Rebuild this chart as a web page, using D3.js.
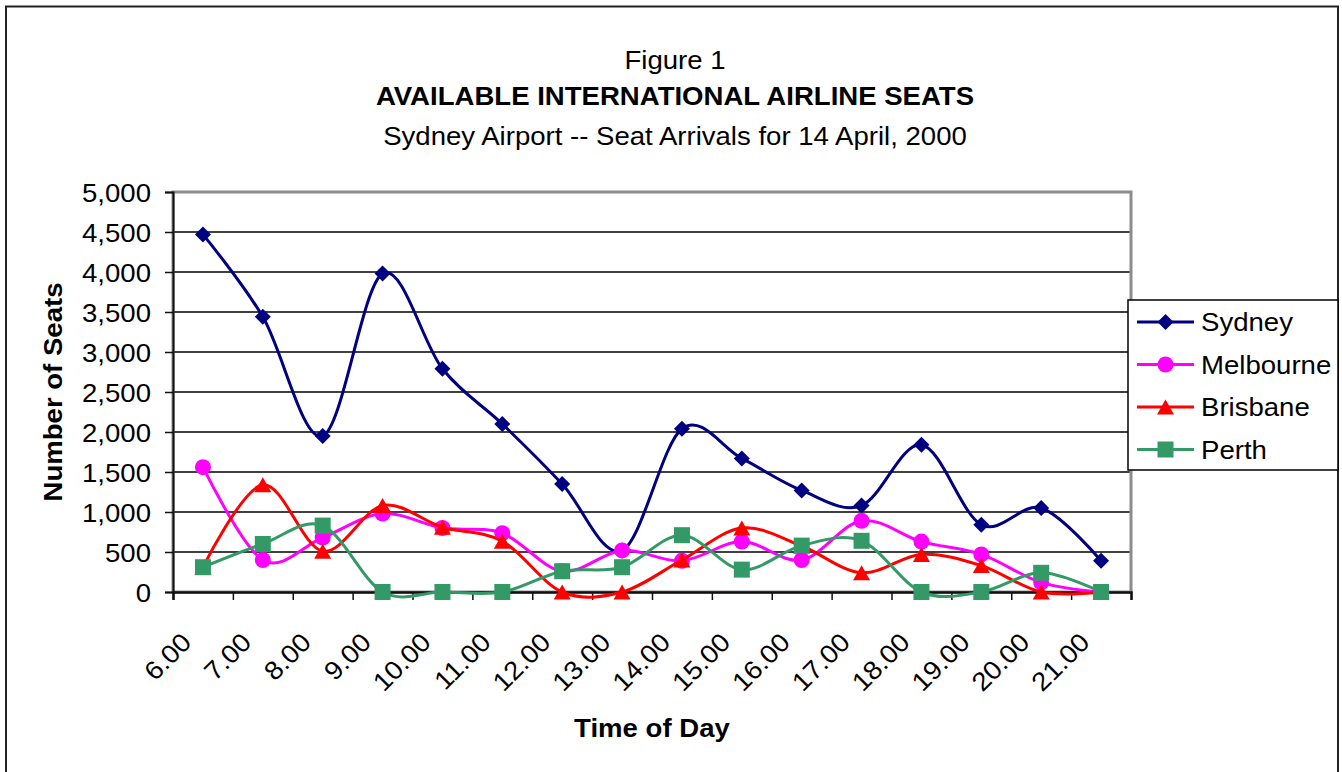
<!DOCTYPE html>
<html>
<head>
<meta charset="utf-8">
<script src="https://cdn.jsdelivr.net/npm/d3@7"></script>
<style>
  html, body { margin: 0; padding: 0; background: #fff; }
  svg { display: block; font-family: "Liberation Sans", Arial, sans-serif; }
</style>
</head>
<body>
<svg id="chart" width="1342" height="772"></svg>
<script>
// ---- data ----
const categories = ["6.00","7.00","8.00","9.00","10.00","11.00","12.00","13.00","14.00","15.00","16.00","17.00","18.00","19.00","20.00","21.00"];
const sydney    = [4470,3440,1950,3980,2790,2100,1350,520,2040,1670,1270,1080,1840,840,1050,390];
const melbourne = [1560,400,680,980,800,735,260,520,390,630,400,890,630,470,120,0];
const brisbane  = [310,1340,510,1080,810,635,0,0,400,800,575,240,470,330,0,0];
const perth     = [310,600,830,0,0,0,260,310,710,280,580,640,0,0,240,0];
const seriesNames = ["Sydney","Melbourne","Brisbane","Perth"];
const yTicks = [0,500,1000,1500,2000,2500,3000,3500,4000,4500,5000];
const titleLines = ["Figure 1","AVAILABLE INTERNATIONAL AIRLINE SEATS","Sydney Airport -- Seat Arrivals for 14 April, 2000"];
const yTitle = "Number of Seats";
const xTitle = "Time of Day";

// ---- styles ----
const colors = ["#000080","#FF00FF","#FF0000","#339966"];
const shapes = ["diamond","circle","triangle","square"];
const FONT = 26;
const STRETCH = 1.06;

const svg = d3.select("#chart");
const W = 1342, H = 772;
const plot = {left: 173, right: 1131, top: 192, bottom: 592};

function stretch(sel, k) {
  sel.each(function() {
    const len = this.getComputedTextLength();
    d3.select(this).attr("textLength", len * k).attr("lengthAdjust", "spacingAndGlyphs");
  });
}

svg.append("rect").attr("width", W).attr("height", H).attr("fill", "#fff");
// outer chart border
svg.append("rect").attr("x", 6).attr("y", 6.5).attr("width", 1332).attr("height", 820)
  .attr("fill", "none").attr("stroke", "#222").attr("stroke-width", 2);

const x = d3.scaleBand().domain(categories).range([plot.left, plot.right]).padding(0);
const xc = d => x(d) + x.bandwidth() / 2;
const xEdge = d3.scaleLinear().domain([0, categories.length]).range([plot.left, plot.right]);
const y = d3.scaleLinear().domain([0, 5000]).range([plot.bottom, plot.top]);

// gridlines
svg.append("g").selectAll("line").data(yTicks.filter(v => v > 0 && v < 5000)).join("line")
  .attr("x1", plot.left).attr("x2", plot.right)
  .attr("y1", d => y(d)).attr("y2", d => y(d))
  .attr("stroke", "#000").attr("stroke-width", 1.4);

// plot border (gray)
svg.append("rect").attr("x", plot.left).attr("y", plot.top)
  .attr("width", plot.right - plot.left).attr("height", plot.bottom - plot.top)
  .attr("fill", "none").attr("stroke", "#8c8c8c").attr("stroke-width", 3);

// y axis
const yAxis = svg.append("g").attr("transform", `translate(${plot.left},0)`)
  .call(d3.axisLeft(y).tickValues(yTicks).tickSize(8).tickPadding(14).tickFormat(d3.format(",")));
yAxis.select(".domain").attr("stroke", "#111").attr("stroke-width", 2);
yAxis.selectAll(".tick line").attr("stroke", "#111").attr("stroke-width", 1.5);
yAxis.selectAll("text").attr("font-size", FONT).attr("fill", "#000")
  .attr("font-family", "Liberation Sans, Arial, sans-serif").attr("dy", "0.36em");

// x axis ticks at category boundaries
const xTickAxis = svg.append("g").attr("transform", `translate(0,${plot.bottom})`)
  .call(d3.axisBottom(xEdge).tickValues(d3.range(categories.length + 1)).tickSize(8).tickFormat(""));
xTickAxis.select(".domain").attr("stroke", "#111").attr("stroke-width", 2.5);
xTickAxis.selectAll(".tick line").attr("stroke", "#111").attr("stroke-width", 1.5);

// x labels at category centres, rotated
const xLab = svg.append("g").attr("transform", `translate(0,${plot.bottom})`)
  .call(d3.axisBottom(x).tickSize(0));
xLab.select(".domain").remove();
xLab.selectAll("text")
  .attr("font-size", FONT).attr("fill", "#000").attr("font-family", "Liberation Sans, Arial, sans-serif")
  .attr("x", 0).attr("y", 0).attr("dy", 0)
  .attr("text-anchor", "end")
  .attr("transform", "translate(-10,52) rotate(-45)");

// markers
function markerPath(shape) {
  const p = d3.path();
  if (shape === "diamond") { const r = 8; p.moveTo(0,-r); p.lineTo(r,0); p.lineTo(0,r); p.lineTo(-r,0); p.closePath(); }
  else if (shape === "circle") { p.arc(0,0,8,0,2*Math.PI); }
  else if (shape === "triangle") { p.moveTo(0,-7.5); p.lineTo(8.5,7.5); p.lineTo(-8.5,7.5); p.closePath(); }
  else { p.rect(-8,-8,16,16); }
  return p.toString();
}

const allSeries = [sydney, melbourne, brisbane, perth];
const line = d3.line().x((d, i) => xc(categories[i])).y(d => y(d)).curve(d3.curveCatmullRom.alpha(0));

const plotG = svg.append("g");
allSeries.forEach((vals, s) => {
  const g = plotG.append("g");
  g.append("path").datum(vals).attr("d", line)
    .attr("fill", "none").attr("stroke", colors[s]).attr("stroke-width", 3).attr("stroke-linejoin", "round");
  g.selectAll("path.m").data(vals).join("path").attr("class", "m")
    .attr("d", markerPath(shapes[s]))
    .attr("transform", (d, i) => `translate(${xc(categories[i])},${y(d)})`)
    .attr("fill", colors[s]);
});

// titles
const tcx = 675;
const tY = [69, 105, 145];
titleLines.forEach((t, i) => {
  svg.append("text").attr("class", "lbl").attr("x", tcx).attr("y", tY[i]).attr("text-anchor", "middle")
    .attr("font-size", FONT).attr("font-weight", i === 1 ? "bold" : "normal").text(t);
});

// axis titles
svg.append("text").attr("class", "lbl").attr("transform", `translate(62,${(plot.top + plot.bottom) / 2}) rotate(-90)`)
  .attr("text-anchor", "middle").attr("font-size", FONT).attr("font-weight", "bold").text(yTitle);
svg.append("text").attr("class", "lbl").attr("x", (plot.left + plot.right) / 2).attr("y", 737)
  .attr("text-anchor", "middle").attr("font-size", FONT).attr("font-weight", "bold").text(xTitle);

// legend
const leg = svg.append("g");
leg.append("rect").attr("x", 1128).attr("y", 300).attr("width", 210).attr("height", 170)
  .attr("fill", "#fff").attr("stroke", "#000").attr("stroke-width", 1.5);
const rowY = d3.scalePoint().domain(seriesNames).range([322, 449.5]);
seriesNames.forEach((n, s) => {
  const ry = rowY(n);
  leg.append("line").attr("x1", 1137).attr("x2", 1194).attr("y1", ry).attr("y2", ry)
    .attr("stroke", colors[s]).attr("stroke-width", 3);
  leg.append("path").attr("d", markerPath(shapes[s])).attr("transform", `translate(1165.5,${ry})`).attr("fill", colors[s]);
  leg.append("text").attr("class", "lbl").attr("x", 1201).attr("y", ry).attr("dy", "0.36em").attr("font-size", FONT).text(n);
});

// widen all text slightly to match the reference's glyph widths
stretch(svg.selectAll("text"), STRETCH);
</script>
</body>
</html>
